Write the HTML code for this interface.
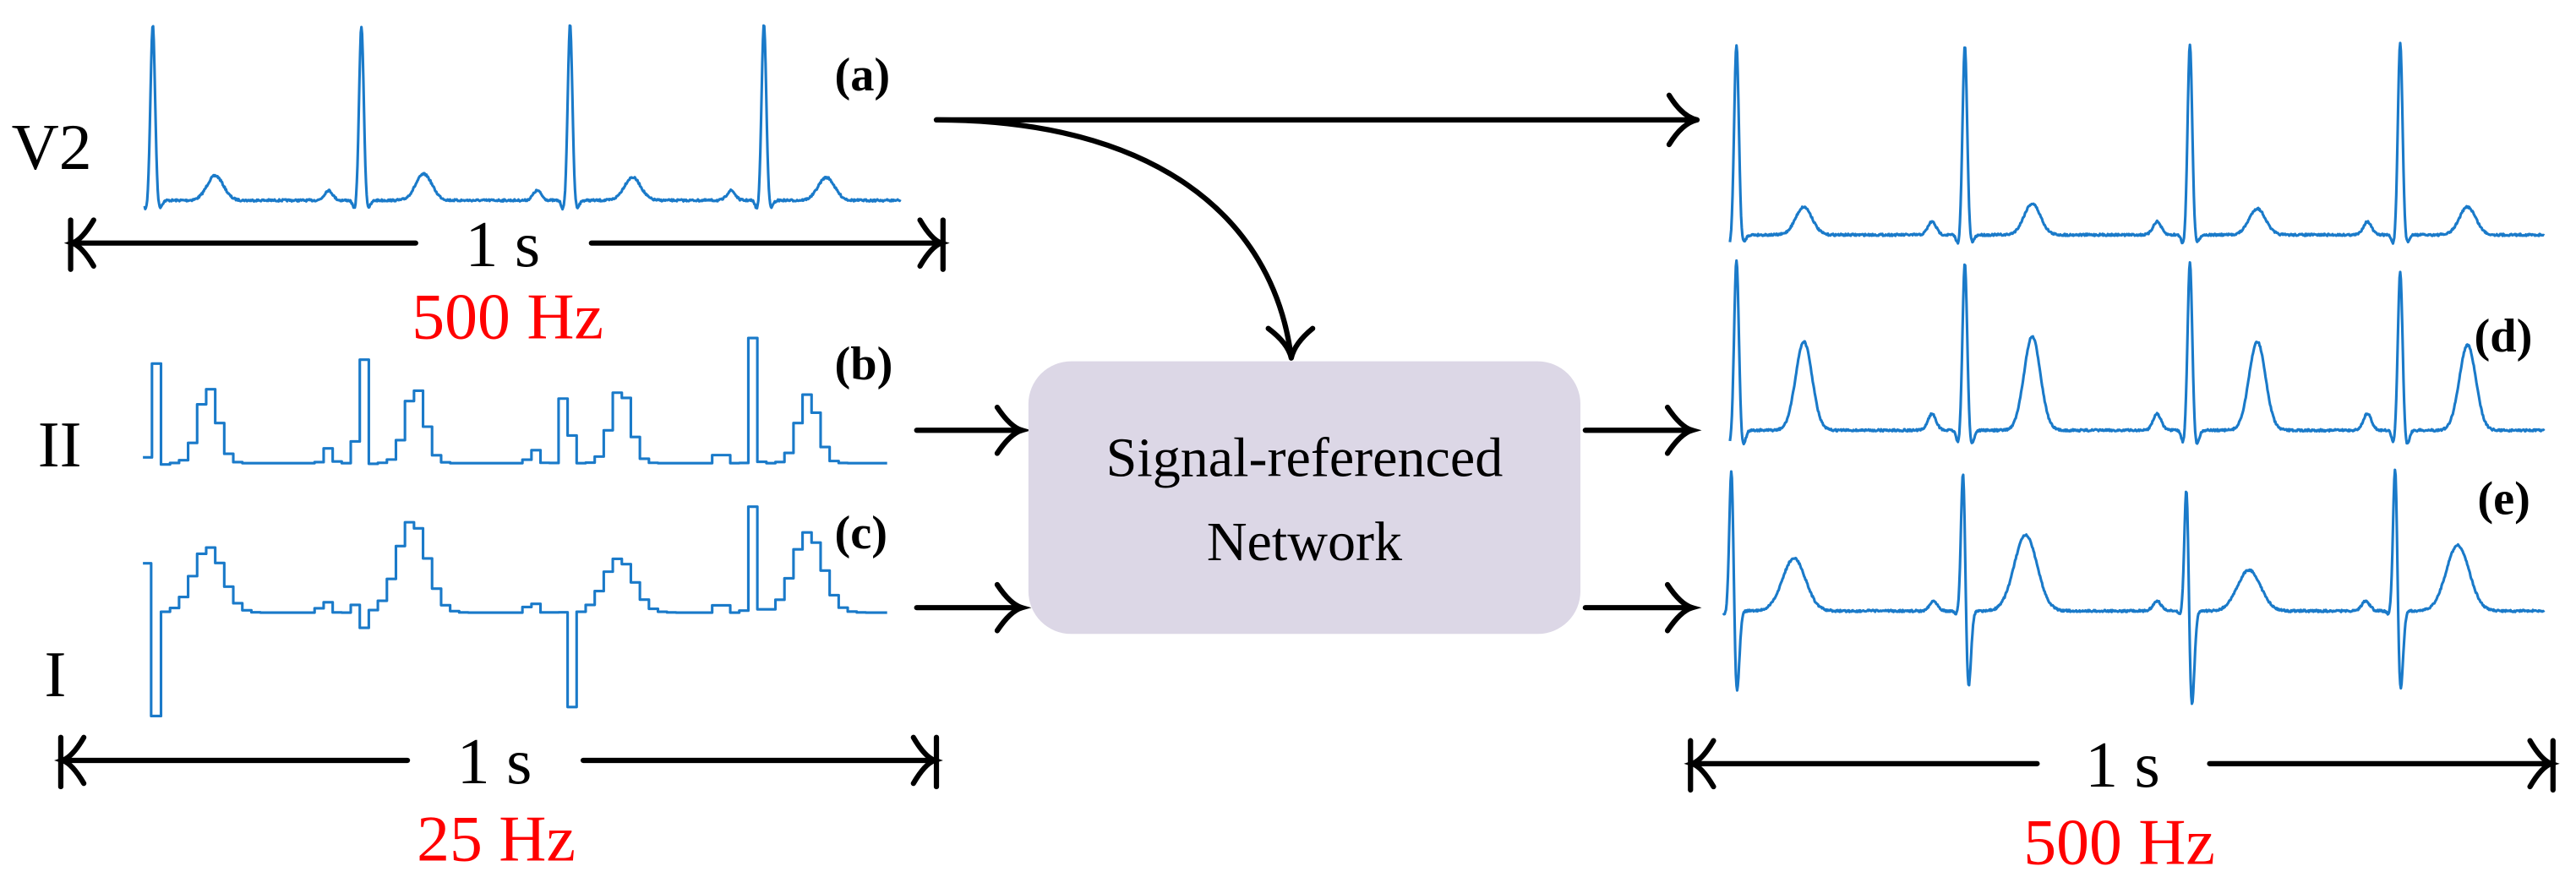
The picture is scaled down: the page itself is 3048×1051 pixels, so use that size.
<!DOCTYPE html>
<html><head><meta charset="utf-8"><style>
html,body{margin:0;padding:0;background:#fff}
svg{display:block}
text{font-family:"Liberation Serif",serif}
</style></head><body>
<svg id="s" width="3048" height="1051" viewBox="0 0 1568 540.7" preserveAspectRatio="none" xmlns="http://www.w3.org/2000/svg">
<g fill="none" stroke="#000" stroke-width="3.2" stroke-linecap="round">
<line x1="43" y1="148" x2="253" y2="148"/><line x1="360" y1="148" x2="573" y2="148"/>
<line x1="43" y1="134" x2="43" y2="164"/><line x1="574" y1="134" x2="574" y2="164"/>
<path d="M57,134 Q50,146 44,148 Q50,150 57,162"/><path d="M560,134 Q567,146 573,148 Q567,150 560,162"/>
<line x1="37" y1="463" x2="248" y2="463"/><line x1="355" y1="463" x2="569" y2="463"/>
<line x1="37" y1="449" x2="37" y2="479"/><line x1="570" y1="449" x2="570" y2="479"/>
<path d="M51,449 Q44,461 38,463 Q44,465 51,477"/><path d="M556,449 Q563,461 569,463 Q563,465 556,477"/>
<line x1="1029" y1="465" x2="1240" y2="465"/><line x1="1345" y1="465" x2="1553" y2="465"/>
<line x1="1029" y1="451" x2="1029" y2="481"/><line x1="1554" y1="451" x2="1554" y2="481"/>
<path d="M1043,451 Q1036,463 1030,465 Q1036,467 1043,479"/><path d="M1540,451 Q1547,463 1553,465 Q1547,467 1540,479"/>
<line x1="570" y1="73" x2="1033" y2="73"/>
<path d="M1016,58 Q1024,71 1033,73 Q1024,75 1016,88"/>
<path d="M570,73 C700,73 775,130 786,218"/>
<path d="M772,200 Q784,209 786,218 Q788,209 799,200"/>
<line x1="558" y1="262" x2="622" y2="262"/><path d="M607,248 Q615,260 622,262 Q615,264 607,276"/>
<line x1="558" y1="370" x2="622" y2="370"/><path d="M607,356 Q615,368 622,370 Q615,372 607,384"/>
<line x1="965" y1="262" x2="1030" y2="262"/><path d="M1015,248 Q1023,260 1030,262 Q1023,264 1015,276"/>
<line x1="965" y1="370" x2="1030" y2="370"/><path d="M1015,356 Q1023,368 1030,370 Q1023,372 1015,384"/>
</g>
<rect x="626" y="220" width="336" height="166" rx="26" ry="26" fill="#dcd7e6"/>
<text x="794" y="290" font-size="34" text-anchor="middle">Signal-referenced</text>
<text x="794" y="341" font-size="34" text-anchor="middle">Network</text>
<g font-size="40">
<text x="7" y="103">V2</text>
<text x="23" y="284">II</text>
<text x="27" y="424">I</text>
<text x="306" y="162" text-anchor="middle">1 s</text>
<text x="301" y="477" text-anchor="middle">1 s</text>
<text x="1292" y="479" text-anchor="middle">1 s</text>
<text x="309" y="206" text-anchor="middle" fill="#ff0000">500 Hz</text>
<text x="302" y="524" text-anchor="middle" fill="#ff0000">25 Hz</text>
<text x="1290" y="526" text-anchor="middle" fill="#ff0000">500 Hz</text>
</g>
<g font-size="29" font-weight="bold">
<text x="508" y="55">(a)</text>
<text x="508" y="231">(b)</text>
<text x="508" y="334">(c)</text>
<text x="1506" y="214">(d)</text>
<text x="1508" y="313">(e)</text>
</g>
<g id="tr" fill="none" stroke="#1a7ac9" stroke-width="1.6" stroke-linejoin="round"></g>
</svg>
<script>
function G(x,c,s){return Math.exp(-((x-c)*(x-c))/(2*s*s));}
var seed=7;function rnd(){seed=(seed*16807)%2147483647;return seed/2147483647-0.5;}
function f(x,b,o){var y=b;o.beats.forEach(function(k){
 y-= (b-k.r)*G(x,k.x,o.sr||1.4);
 if(k.d) y+= (k.d-b)*G(x,k.x+(o.sd||2.5),o.ds||1.6);
 y+= (o.q||6)*G(x,k.x-4,1.2)+(o.s||5)*G(x,k.x+4,1.5);
 y-= (b-k.t)*G(x,k.x+(o.to||38),o.ts||5);
 y-= (o.p||6)*G(x,k.x-(o.po||20),2.5);
});return y;}
function smooth(x0,x1,b,o){var d="";for(var x=x0;x<=x1;x+=0.4){var y=f(x,b,o)+rnd()*(o.n||1.2);d+=(d?"L":"M")+x.toFixed(1)+","+y.toFixed(1);}return d;}
function step(x0,x1,b,o,w){var d="",py;for(var x=x0;x<=x1;x+=w){var y=f(x+w/2,b,o);if(!d)d="M"+x+","+y.toFixed(1);else d+="L"+x.toFixed(1)+","+py.toFixed(1)+"L"+x.toFixed(1)+","+y.toFixed(1);py=y;}d+="L"+x1+","+py.toFixed(1);return d;}
var tr=document.getElementById("tr");
function add(d){var p=document.createElementNS("http://www.w3.org/2000/svg","path");p.setAttribute("d",d);tr.appendChild(p);}
add(smooth(88,548,122,{beats:[{x:93,r:15,t:107},{x:220,r:16,t:106},{x:347,r:15,t:108},{x:465,r:14,t:108}],to:38,ts:5,p:6}));
add(step(87,540,282,{beats:[{x:94,r:209,t:236},{x:220,r:192,t:236},{x:345,r:211,t:236},{x:459,r:201,t:240}],sr:2.2,to:33,ts:6,p:9,q:8,s:8},5.5));
var dI=step(98,540,373,{beats:[{x:94,r:373,t:333},{x:218,r:365,d:385,t:317},{x:344,r:360,d:443,t:340},{x:459,r:303,d:380,t:324}],sr:2.2,sd:3,ds:2.2,to:33,ts:9,p:8,q:0.1,s:0.1},5.5);
add("M87,343L92,343L92,436L98,436L98,"+dI.substring(1).split(",").slice(1).join(","));
add(smooth(1053,1549,143,{beats:[{x:1057,r:27,t:126},{x:1196,r:28,t:124},{x:1333,r:27,t:127},{x:1461,r:26,t:126}],to:41,ts:5,p:8,po:20}));
add(smooth(1053,1549,262,{beats:[{x:1057,r:158,t:208},{x:1196,r:160,t:205},{x:1333,r:160,t:208},{x:1461,r:165,t:210}],to:41,ts:5,p:10,po:20,q:8,s:9}));
add(smooth(1049,1549,372,{beats:[{x:1054,r:279,d:423,t:340},{x:1195,r:281,d:420,t:326},{x:1331,r:290,d:431,t:347},{x:1458,r:278,d:422,t:332}],sr:1.3,sd:3,to:38,ts:7,p:6,po:18,q:2,s:2}));
</script>
</body></html>
